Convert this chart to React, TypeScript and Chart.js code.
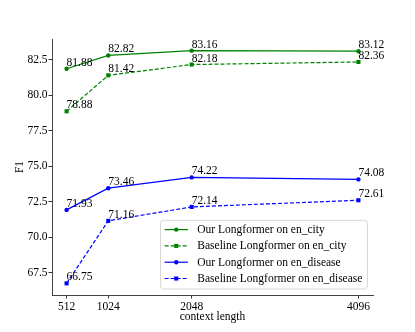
import React, { useEffect, useRef } from "react";
import { Chart, registerables } from "chart.js";

Chart.register(...registerables);

const contextLengths = [512, 1024, 2048, 4096];
const ourCity = [81.88, 82.82, 83.16, 83.12];
const baseCity = [78.88, 81.42, 82.18, 82.36];
const ourDisease = [71.93, 73.46, 74.22, 74.08];
const baseDisease = [66.75, 71.16, 72.14, 72.61];
const yTicks = [67.5, 70.0, 72.5, 75.0, 77.5, 80.0, 82.5];
const seriesNames = [
  "Our Longformer on en_city",
  "Baseline Longformer on en_city",
  "Our Longformer on en_disease",
  "Baseline Longformer on en_disease",
];

const FONT = "'Liberation Serif', 'Times New Roman', serif";
const FS = 11.5;

Chart.defaults.font.family = FONT;
Chart.defaults.font.size = FS;
Chart.defaults.color = "#000";

const allY = [...ourCity, ...baseCity, ...ourDisease, ...baseDisease];
const yMinD = Math.min(...allY);
const yMaxD = Math.max(...allY);
const xMinD = Math.min(...contextLengths);
const xMaxD = Math.max(...contextLengths);
const xPad = (xMaxD - xMinD) * 0.05;
const yPad = (yMaxD - yMinD) * 0.05;

function makeDs(label: string, vals: number[], color: string, dashed: boolean, style: string) {
  return {
    label,
    data: contextLengths.map((x, i) => ({ x, y: vals[i] })),
    borderColor: color,
    backgroundColor: color,
    borderWidth: 1.2,
    borderDash: dashed ? [4, 2] : [],
    pointStyle: style,
    pointRadius: style === "rect" ? 2.9 : 2.2,
    pointBorderWidth: 0,
    pointBackgroundColor: color,
    tension: 0,
    fill: false,
  };
}

const labelsPlugin = {
  id: "valueLabels",
  afterDatasetsDraw(chart: any) {
    const ctx = chart.ctx;
    ctx.save();
    ctx.font = `${FS}px ${FONT}`;
    ctx.fillStyle = "#000";
    ctx.textAlign = "left";
    ctx.textBaseline = "alphabetic";
    chart.data.datasets.forEach((ds: any, di: number) => {
      const meta = chart.getDatasetMeta(di);
      meta.data.forEach((pt: any, i: number) => {
        ctx.fillText(ds.data[i].y.toFixed(2), pt.x, pt.y - 3);
      });
    });
    ctx.restore();
  },
};

const legendPlugin = {
  id: "mplLegend",
  afterDraw(chart: any) {
    const ctx = chart.ctx;
    const area = chart.chartArea;
    ctx.save();
    ctx.font = `${FS}px ${FONT}`;
    const ds = chart.data.datasets;
    const textW = Math.max(...ds.map((d: any) => ctx.measureText(d.label).width));
    const rowH = 16.3;
    const padL = 4;
    const lineLen = 23.3;
    const gap = 9.4;
    const padR = 5;
    const boxW = padL + lineLen + gap + textW + padR;
    const boxH = rowH * ds.length + 3.5;
    const right = area.right - 5.6;
    const bottom = area.bottom - 6;
    const left = right - boxW;
    const top = bottom - boxH;
    ctx.beginPath();
    ctx.roundRect(left, top, boxW, boxH, 3);
    ctx.fillStyle = "rgba(255,255,255,0.8)";
    ctx.fill();
    ctx.strokeStyle = "#d6d6d6";
    ctx.lineWidth = 1;
    ctx.stroke();
    ds.forEach((d: any, i: number) => {
      const cy = top + 9.3 + i * rowH;
      const x0 = left + padL;
      ctx.strokeStyle = d.borderColor;
      ctx.lineWidth = d.borderWidth;
      ctx.setLineDash(d.borderDash);
      ctx.beginPath();
      ctx.moveTo(x0, cy);
      ctx.lineTo(x0 + lineLen, cy);
      ctx.stroke();
      ctx.setLineDash([]);
      ctx.fillStyle = d.borderColor;
      const mx = x0 + lineLen / 2;
      if (d.pointStyle === "rect") {
        const s = d.pointRadius * Math.SQRT1_2;
        ctx.fillRect(mx - s, cy - s, 2 * s, 2 * s);
      } else {
        ctx.beginPath();
        ctx.arc(mx, cy, d.pointRadius, 0, Math.PI * 2);
        ctx.fill();
      }
      ctx.fillStyle = "#000";
      ctx.textAlign = "left";
      ctx.textBaseline = "middle";
      ctx.fillText(d.label, x0 + lineLen + gap, cy + 0.5);
    });
    ctx.restore();
  },
};

export default function App() {
  const ref = useRef<HTMLCanvasElement | null>(null);
  useEffect(() => {
    document.body.style.margin = "0";
    if (!ref.current) return;
    const chart = new Chart(ref.current, {
      type: "line",
      data: {
        datasets: [
          makeDs(seriesNames[0], ourCity, "#008000", false, "circle"),
          makeDs(seriesNames[1], baseCity, "#008000", true, "rect"),
          makeDs(seriesNames[2], ourDisease, "#0000ff", false, "circle"),
          makeDs(seriesNames[3], baseDisease, "#0000ff", true, "rect"),
        ],
      },
      options: {
        animation: false,
        responsive: false,
        maintainAspectRatio: false,
        layout: { padding: { top: 39, right: 42, left: 0, bottom: 0 } },
        plugins: {
          legend: { display: false },
          tooltip: { enabled: false },
        },
        scales: {
          x: {
            type: "linear",
            min: xMinD - xPad,
            max: xMaxD + xPad,
            afterBuildTicks: (s: any) => {
              s.ticks = contextLengths.map((v) => ({ value: v }));
            },
            afterFit: (s: any) => {
              s.height = 37;
            },
            ticks: {
              autoSkip: false,
              maxRotation: 0,
              padding: 2,
              color: "#000",
              font: { family: FONT, size: FS },
              callback: (v: any) => String(v),
            },
            grid: {
              display: true,
              drawOnChartArea: false,
              drawTicks: true,
              tickLength: 3.5,
              color: "#333",
            },
            border: { display: true, color: "#444", width: 1 },
            title: {
              display: true,
              text: "context length",
              color: "#000",
              font: { family: FONT, size: FS },
              padding: { top: 0, bottom: 8.4 },
            },
          },
          y: {
            type: "linear",
            min: yMinD - yPad,
            max: yMaxD + yPad,
            afterBuildTicks: (s: any) => {
              s.ticks = yTicks.map((v) => ({ value: v }));
            },
            afterFit: (s: any) => {
              s.width = 52;
            },
            ticks: {
              padding: 1,
              color: "#000",
              font: { family: FONT, size: FS },
              callback: (v: any) => Number(v).toFixed(1),
            },
            grid: {
              display: true,
              drawOnChartArea: false,
              drawTicks: true,
              tickLength: 3.5,
              color: "#333",
            },
            border: { display: true, color: "#444", width: 1 },
            title: {
              display: true,
              text: "F1",
              color: "#000",
              font: { family: FONT, size: FS },
              padding: { top: 13, bottom: 0 },
            },
          },
        },
      },
      plugins: [labelsPlugin, legendPlugin],
    } as any);
    return () => chart.destroy();
  }, []);
  return (
    <div style={{ width: 415, height: 332 }}>
      <canvas ref={ref} width={415} height={332} style={{ width: 415, height: 332, display: "block" }} />
    </div>
  );
}
